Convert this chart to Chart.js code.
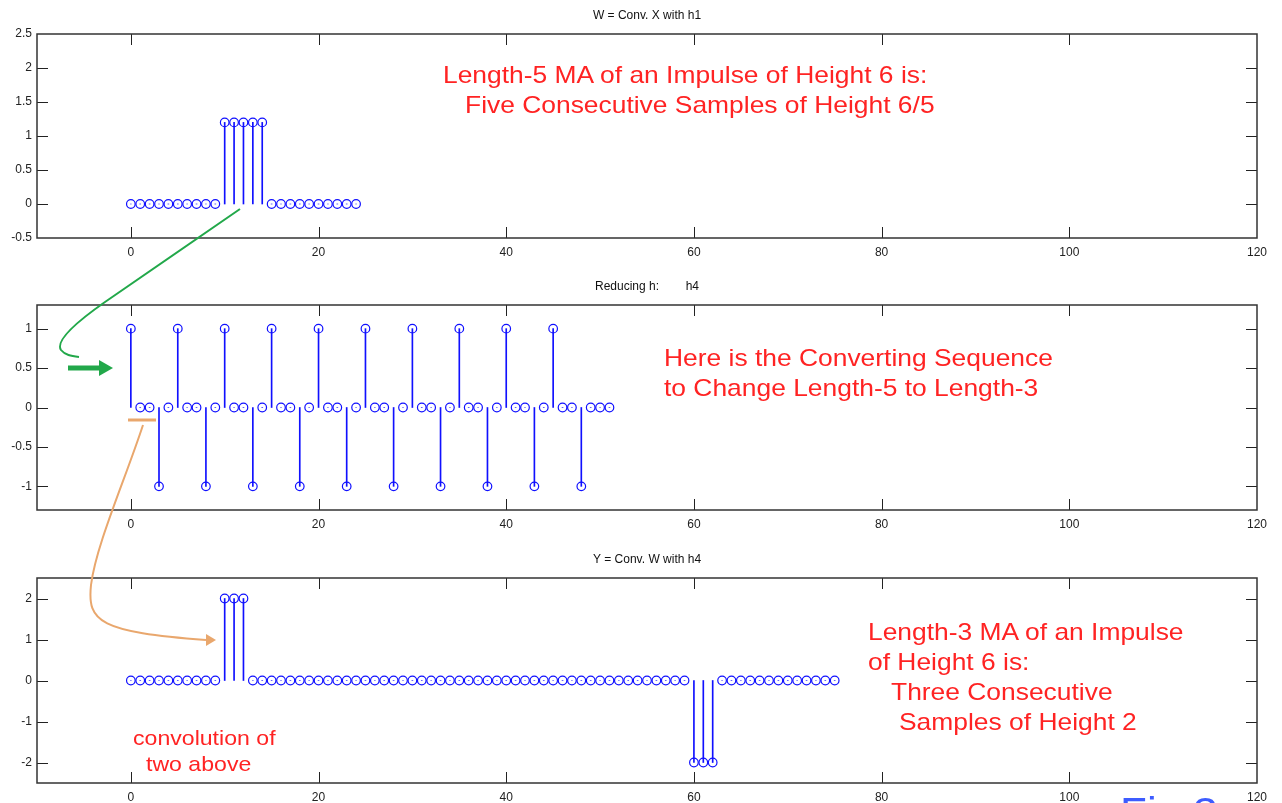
<!DOCTYPE html>
<html><head><meta charset="utf-8">
<script src="https://cdn.jsdelivr.net/npm/chart.js@4.4.1/dist/chart.umd.min.js"></script>
<style>
html,body{margin:0;padding:0;width:1282px;height:803px;overflow:hidden;background:#fff;}
canvas{position:absolute;left:0;}
.t{position:absolute;font-family:"Liberation Sans",Arial,sans-serif;color:#ff2323;white-space:pre;transform-origin:0 0;transform:scaleX(1.1);line-height:30px;font-size:24px;z-index:5;}
.s{font-size:21px;line-height:26px;}
.fig{position:absolute;left:1120px;top:792px;font-family:"Liberation Sans",Arial,sans-serif;font-size:40px;line-height:40px;color:#3d5cff;white-space:pre;transform-origin:0 0;transform:scaleX(1.1);z-index:5;}
svg{position:absolute;left:0;top:0;z-index:4;}
</style></head><body>
<canvas id="c1" width="1282" height="262" style="top:0px"></canvas>
<canvas id="c2" width="1282" height="272" style="top:262px"></canvas>
<canvas id="c3" width="1282" height="269" style="top:534px"></canvas>

<svg width="1282" height="803">
  <path d="M240 209 L105 302 C75 323 55 341 61 350 C65 355 71 356 79 357" fill="none" stroke="#22a84a" stroke-width="2"/>
  <line x1="68" y1="368" x2="101" y2="368" stroke="#22a84a" stroke-width="5"/>
  <polygon points="99,360 113,368 99,376" fill="#22a84a"/>
  <line x1="128" y1="420" x2="156" y2="420" stroke="#e9a76d" stroke-width="3"/>
  <path d="M143 425 C125 480 96 545 91 585 C87 622 100 632 206 640" fill="none" stroke="#e9a76d" stroke-width="2"/>
  <polygon points="206,634 216,640 206,646" fill="#e9a76d"/>
</svg>

<div class="t" style="left:443px;top:60px">Length-5 MA of an Impulse of Height 6 is:</div>
<div class="t" style="left:465px;top:90px">Five Consecutive Samples of Height 6/5</div>
<div class="t" style="left:664px;top:343px">Here is the Converting Sequence</div>
<div class="t" style="left:664px;top:373px">to Change Length-5 to Length-3</div>
<div class="t" style="left:868px;top:617px">Length-3 MA of an Impulse</div>
<div class="t" style="left:868px;top:647px">of Height 6 is:</div>
<div class="t" style="left:891px;top:677px">Three Consecutive</div>
<div class="t" style="left:899px;top:707px">Samples of Height 2</div>
<div class="t s" style="left:133px;top:725px">convolution of</div>
<div class="t s" style="left:146px;top:751px">two above</div>
<div class="fig">Fig 3</div>

<script>
// ---- data ----
const TITLES = ["W = Conv. X with h1", "Reducing h:        h4", "Y = Conv. W with h4"];
const X_TICKS = [0, 20, 40, 60, 80, 100, 120];

const W_N = [0,1,2,3,4,5,6,7,8,9,10,11,12,13,14,15,16,17,18,19,20,21,22,23,24];
const W_VALUES = [0,0,0,0,0,0,0,0,0,0,1.2,1.2,1.2,1.2,1.2,0,0,0,0,0,0,0,0,0,0];
const W_Y_TICKS = [-0.5, 0, 0.5, 1, 1.5, 2, 2.5];

const H4_N = [0,1,2,3,4,5,6,7,8,9,10,11,12,13,14,15,16,17,18,19,20,21,22,23,24,25,
  26,27,28,29,30,31,32,33,34,35,36,37,38,39,40,41,42,43,44,45,46,47,48,49,50,51];
const H4_VALUES = [1,0,0,-1,0, 1,0,0,-1,0, 1,0,0,-1,0, 1,0,0,-1,0, 1,0,0,-1,0,
  1,0,0,-1,0, 1,0,0,-1,0, 1,0,0,-1,0, 1,0,0,-1,0, 1,0,0,-1,0, 0,0];
const H4_Y_TICKS = [-1, -0.5, 0, 0.5, 1];

const Y_N = [0,1,2,3,4,5,6,7,8,9,10,11,12,13,14,15,16,17,18,19,20,21,22,23,24,25,
  26,27,28,29,30,31,32,33,34,35,36,37,38,39,40,41,42,43,44,45,46,47,48,49,50,
  51,52,53,54,55,56,57,58,59,60,61,62,63,64,65,66,67,68,69,70,71,72,73,74,75];
const Y_VALUES = [0,0,0,0,0,0,0,0,0,0,2,2,2,0,0,0,0,0,0,0,0,0,0,0,0,0,
  0,0,0,0,0,0,0,0,0,0,0,0,0,0,0,0,0,0,0,0,0,0,0,0,0,
  0,0,0,0,0,0,0,0,0,-2,-2,-2,0,0,0,0,0,0,0,0,0,0,0,0,0];
const Y_Y_TICKS = [-2, -1, 0, 1, 2];

const FONT = '"Liberation Sans", Arial, sans-serif';

function makeChart(id, xs, ys, yMin, yMax, yTicks, title, padTop, xAxisH) {
  const pts = xs.map((x, i) => ({ x: x, y: ys[i] }));
  const framePlugin = {
    id: 'frame' + id,
    afterDraw(chart) {
      const ctx = chart.ctx, a = chart.chartArea, sx = chart.scales.x, sy = chart.scales.y;
      ctx.save();
      ctx.strokeStyle = '#222';
      ctx.lineWidth = 1;
      ctx.beginPath();
      X_TICKS.forEach(v => {
        const p = Math.round(sx.getPixelForValue(v)) + 0.5;
        if (p > a.left + 1 && p < a.right - 1) {
          ctx.moveTo(p, a.bottom); ctx.lineTo(p, a.bottom - 11);
          ctx.moveTo(p, a.top); ctx.lineTo(p, a.top + 11);
        }
      });
      yTicks.forEach(v => {
        const p = Math.round(sy.getPixelForValue(v)) + 0.5;
        if (p > a.top + 1 && p < a.bottom - 1) {
          ctx.moveTo(a.left, p); ctx.lineTo(a.left + 11, p);
          ctx.moveTo(a.right, p); ctx.lineTo(a.right - 11, p);
        }
      });
      ctx.stroke();
      ctx.strokeStyle = '#333';
      ctx.lineWidth = 1.5;
      ctx.strokeRect(a.left, a.top, a.right - a.left, a.bottom - a.top);
      ctx.fillStyle = '#111';
      ctx.font = '12px ' + FONT;
      ctx.textAlign = 'center';
      ctx.textBaseline = 'middle';
      ctx.fillText(title, (a.left + a.right) / 2, a.top - 18);
      ctx.restore();
    }
  };
  return new Chart(document.getElementById(id), {
    type: 'bar',
    data: {
      datasets: [
        { type: 'bar', data: pts, backgroundColor: '#1010ff', borderWidth: 0, barThickness: 1, order: 2 },
        { type: 'line', data: pts, showLine: false, pointRadius: 4.3, pointHoverRadius: 4.3,
          pointBorderWidth: 1.2, pointBorderColor: '#1010ff', pointBackgroundColor: 'rgba(0,0,0,0)', order: 1 }
      ]
    },
    options: {
      responsive: false,
      animation: false,
      events: [],
      layout: { padding: { top: padTop, right: 25, left: 0, bottom: 0 } },
      plugins: { legend: { display: false }, tooltip: { enabled: false }, title: { display: false } },
      scales: {
        x: {
          type: 'linear', min: -10, max: 120, offset: false,
          grid: { display: false, drawTicks: false }, border: { display: false },
          ticks: { font: { size: 12, family: FONT }, color: '#222', padding: 7, maxRotation: 0, autoSkip: false,
                   callback: v => String(v) },
          afterBuildTicks: s => { s.ticks = X_TICKS.map(v => ({ value: v })); },
          afterFit: s => { s.height = xAxisH; }
        },
        y: {
          type: 'linear', min: yMin, max: yMax,
          grid: { display: false, drawTicks: false }, border: { display: false },
          ticks: { font: { size: 12, family: FONT }, color: '#222', padding: 5, autoSkip: false,
                   callback: v => String(v) },
          afterBuildTicks: s => { s.ticks = yTicks.map(v => ({ value: v })); },
          afterFit: s => { s.width = 37; }
        }
      }
    },
    plugins: [framePlugin]
  });
}

makeChart('c1', W_N, W_VALUES, -0.5, 2.5, W_Y_TICKS, TITLES[0], 34, 24);
makeChart('c2', H4_N, H4_VALUES, -1.3, 1.3, H4_Y_TICKS, TITLES[1], 43, 24);
makeChart('c3', Y_N, Y_VALUES, -2.5, 2.5, Y_Y_TICKS, TITLES[2], 44, 20);
</script>
</body></html>
